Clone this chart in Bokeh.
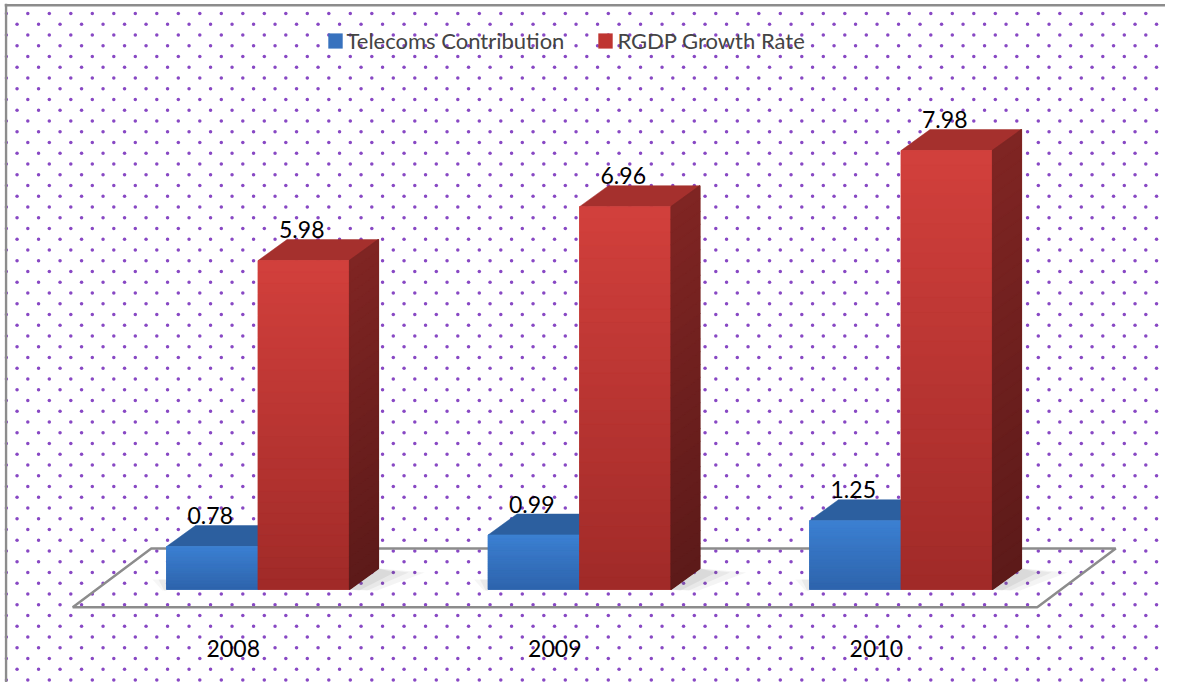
import numpy as np
from bokeh.plotting import figure
from bokeh.models import Range1d, Legend, LegendItem, Span
from bokeh.core.properties import value
from bokeh.embed import file_html
from bokeh.resources import INLINE

# ---------------- data ----------------
years = ["2008", "2009", "2010"]
telecoms = [0.78, 0.99, 1.25]
rgdp = [5.98, 6.96, 7.98]
series_names = ["Telecoms Contribution", "RGDP Growth Rate"]

# ---------------- layout constants (pixels) ----------------
W, H = 1165, 682
FL, FT = 4, 3        # frame offset (left, top)
PXX = 321.5          # px per category slot
PXY = 55.0           # px per value unit
CX0 = 257.5          # canvas x of category 0 centre
CY0 = 589.0          # canvas y of value 0
BAR_W = 91.5 / PXX
DX = 29.0 / PXX      # depth offset of bars
DY = 21.0 / PXY
FONT = "Lato"
TXT_SHIFT = 10       # px lift for text baseline

def hx(px):
    return px / PXX

def hy(px):
    return px / PXY

p = figure(width=W, height=H,
           x_range=Range1d((FL - CX0) / PXX, (W - CX0) / PXX),
           y_range=Range1d((CY0 - H) / PXY, (CY0 - FT) / PXY),
           output_backend="svg", toolbar_location=None,
           x_axis_type=None, y_axis_type=None,
           min_border_left=FL, min_border_top=FT, min_border_right=0, min_border_bottom=0)
p.grid.visible = False
p.outline_line_color = None
p.background_fill_color = "white"
p.border_fill_color = "white"

# ---------------- dotted background ----------------
sx, sy = 21.5, 10.75
dxs, dys = [], []
for r in range(0, int(H / sy) + 2):
    cy = 13.0 + r * sy
    start = 5.8 + (10.75 if r % 2 else 0.0)
    cols = np.arange(start, W + sx, sx)
    dxs.extend(((cols - CX0) / PXX).tolist())
    dys.extend([(CY0 - cy) / PXY] * len(cols))
p.scatter(dxs, dys, size=3.5, color="#8848c4", line_color=None)

# chart border (left and top edges visible in the picture)
p.add_layout(Span(location=(5.5 - CX0) / PXX, dimension="height",
                  line_color="#8c8c8c", line_width=2.5))
p.add_layout(Span(location=(CY0 - 4.8) / PXY, dimension="width",
                  line_color="#8c8c8c", line_width=2.5))

# ---------------- floor ----------------
n = len(years)
fl_front = (-24.5, -17.7)
fl_back = (54.0, 41.0)
floor_x = [-0.5 + hx(fl_front[0]), n - 0.5 + hx(fl_front[0]),
           n - 0.5 + hx(fl_back[0]), -0.5 + hx(fl_back[0])]
floor_y = [hy(fl_front[1]), hy(fl_front[1]), hy(fl_back[1]), hy(fl_back[1])]
p.patch(floor_x, floor_y, fill_color=None, line_color="#8c8c8c", line_width=2.5)

# ---------------- shadows ----------------
for i in range(n):
    xr = i + BAR_W
    for k, a in zip([46, 30, 16], [0.07, 0.08, 0.1]):
        p.patch([xr, xr + DX, xr + DX + hx(k), xr + hx(k * 0.6)],
                [0, DY, DY - hy(4), hy(-1)],
                fill_color="#606060", fill_alpha=a, line_color=None)
    xl = i - BAR_W
    for k, a in zip([14, 8], [0.06, 0.08]):
        p.patch([xl - hx(k), xl, xl, xl - hx(k * 0.3)],
                [hy(10), hy(10), hy(-1), hy(-1)],
                fill_color="#606060", fill_alpha=a, line_color=None)

# ---------------- helpers ----------------
def lerp(c0, c1, t):
    return "#%02x%02x%02x" % tuple(int(round(a + (b - a) * t)) for a, b in zip(c0, c1))

NSTRIP = 30

def draw_bar(left, top, front_bot, front_top, top_col, side_bot=None, side_top=None):
    right = left + BAR_W
    p.patch([left, right, right + DX, left + DX],
            [top, top, top + DY, top + DY],
            fill_color=top_col, line_color=top_col, line_width=0.5)
    edges = np.linspace(0, top, NSTRIP + 1)
    cols = [lerp(front_bot, front_top, (k + 0.5) / NSTRIP) for k in range(NSTRIP)]
    p.quad(left=[left] * NSTRIP, right=[right] * NSTRIP,
           bottom=edges[:-1], top=edges[1:],
           fill_color=cols, line_color=cols, line_width=0.8)
    if side_bot is not None:
        p.patch([right, right + DX, right + DX, right], [0, DY, top + DY, top],
                fill_color=lerp(side_bot, side_top, 0.5), line_color=None)
        scol = [lerp(side_bot, side_top, (k + 0.5) / NSTRIP) for k in range(NSTRIP)]
        xs = [[right, right + DX, right + DX, right] for _ in range(NSTRIP)]
        ys = [[edges[k], edges[k] + DY, edges[k + 1] + DY, edges[k + 1]] for k in range(NSTRIP)]
        p.patches(xs, ys, fill_color=scol, line_color=scol, line_width=1.2)

idx = np.arange(n)
r_blue = p.vbar(x=idx - BAR_W / 2, top=telecoms, width=BAR_W, fill_color="#3772be",
                line_color=None)
r_red = p.vbar(x=idx + BAR_W / 2, top=rgdp, width=BAR_W, fill_color="#bf3531",
               line_color=None)

BLUE_BOT, BLUE_TOP = (46, 100, 172), (60, 128, 210)
RED_BOT, RED_TOP = (160, 42, 40), (210, 64, 60)
RSIDE_BOT, RSIDE_TOP = (92, 26, 25), (128, 37, 35)

for i in range(n):
    draw_bar(i - BAR_W, telecoms[i], BLUE_BOT, BLUE_TOP, "#2c5f9f")
    draw_bar(i, rgdp[i], RED_BOT, RED_TOP, "#a5302d", RSIDE_BOT, RSIDE_TOP)

# ---------------- value labels ----------------
lab_x = list(idx - BAR_W / 2 - hx(2)) + list(idx + BAR_W / 2 - hx(2))
lab_y = [v + DY + hy(TXT_SHIFT) for v in telecoms] + [v + DY + hy(TXT_SHIFT) for v in rgdp]
lab_t = [f"{v:.2f}" for v in telecoms] + [f"{v:.2f}" for v in rgdp]
p.text(lab_x, lab_y, text=lab_t, text_align="center", text_baseline="alphabetic",
       text_font=value(FONT), text_font_size="23px", text_color="black")

# ---------------- category labels ----------------
p.text(list(idx + hx(-24.7)), [hy(-68.7 + TXT_SHIFT)] * n, text=years, text_align="center",
       text_baseline="alphabetic", text_font=value(FONT), text_font_size="23px",
       text_color="black")

# ---------------- legend ----------------
legend = Legend(items=[LegendItem(label=series_names[0], renderers=[r_blue]),
                       LegendItem(label=series_names[1], renderers=[r_red])],
                orientation="horizontal", location=(321.5, 628.3),
                padding=0, margin=0, spacing=32, label_standoff=3,
                glyph_width=18, glyph_height=19, label_height=19,
                label_text_font=FONT, label_text_font_size="22px",
                border_line_color=None, background_fill_alpha=0)
p.add_layout(legend, "center")

open("out.html", "w").write(file_html(p, INLINE))
